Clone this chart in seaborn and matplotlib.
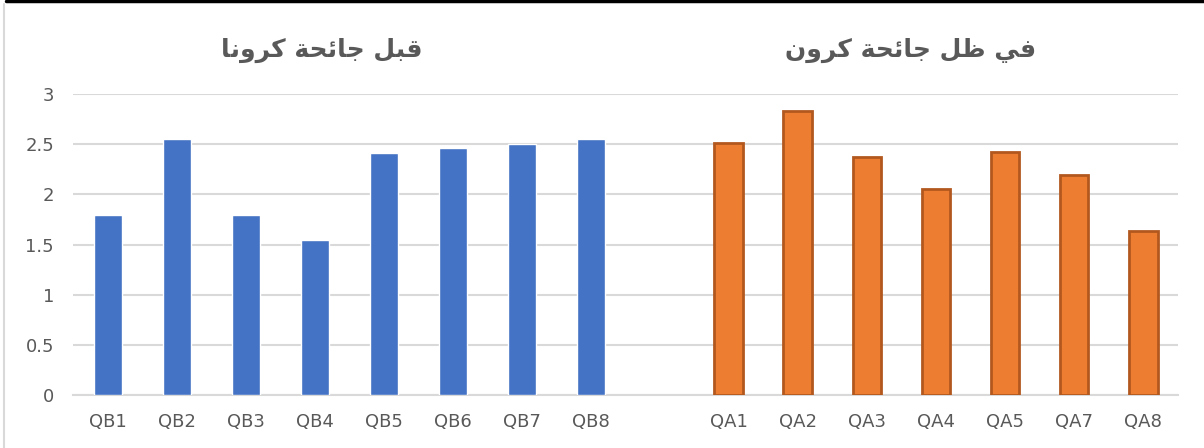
import pandas as pd
import matplotlib.pyplot as plt
import seaborn as sns

before_labels = ['QB1', 'QB2', 'QB3', 'QB4', 'QB5', 'QB6', 'QB7', 'QB8']
before_values = [1.80, 2.55, 1.80, 1.55, 2.41, 2.46, 2.50, 2.55]
after_labels = ['QA1', 'QA2', 'QA3', 'QA4', 'QA5', 'QA7', 'QA8']
after_values = [2.51, 2.83, 2.37, 2.05, 2.42, 2.19, 1.64]
before_title = 'قبل جائحة كرونا'
after_title = 'في ظل جائحة كرون'

# matplotlib has no arabic shaping, so pick the contextual forms by hand
FORMS = {
    'ا': ('\uFE8D', '\uFE8E', None, None),
    'ب': ('\uFE8F', '\uFE90', '\uFE91', '\uFE92'),
    'ة': ('\uFE93', '\uFE94', None, None),
    'ج': ('\uFE9D', '\uFE9E', '\uFE9F', '\uFEA0'),
    'ح': ('\uFEA1', '\uFEA2', '\uFEA3', '\uFEA4'),
    'ر': ('\uFEAD', '\uFEAE', None, None),
    'ظ': ('\uFEC5', '\uFEC6', '\uFEC7', '\uFEC8'),
    'ف': ('\uFED1', '\uFED2', '\uFED3', '\uFED4'),
    'ق': ('\uFED5', '\uFED6', '\uFED7', '\uFED8'),
    'ك': ('\uFED9', '\uFEDA', '\uFEDB', '\uFEDC'),
    'ل': ('\uFEDD', '\uFEDE', '\uFEDF', '\uFEE0'),
    'ن': ('\uFEE5', '\uFEE6', '\uFEE7', '\uFEE8'),
    'و': ('\uFEED', '\uFEEE', None, None),
    'ي': ('\uFEF1', '\uFEF2', '\uFEF3', '\uFEF4'),
    'ئ': ('\uFE89', '\uFE8A', '\uFE8B', '\uFE8C'),
}

def shape(text):
    out = []
    for i, ch in enumerate(text):
        if ch not in FORMS:
            out.append(ch)
            continue
        prev = text[i - 1] if i > 0 else ' '
        nxt = text[i + 1] if i < len(text) - 1 else ' '
        join_prev = prev in FORMS and FORMS[prev][2] is not None
        join_next = nxt in FORMS and FORMS[ch][2] is not None
        iso, fin, ini, med = FORMS[ch]
        if join_prev and join_next:
            out.append(med)
        elif join_prev:
            out.append(fin)
        elif join_next:
            out.append(ini)
        else:
            out.append(iso)
    return ''.join(out)[::-1]

order = before_labels + [' '] + after_labels
df_b = pd.DataFrame({'q': before_labels, 'v': before_values})
df_a = pd.DataFrame({'q': after_labels, 'v': after_values})

sns.set_style('white')
plt.rcParams['font.family'] = ['DejaVu Sans']
grey = '#595959'

fig = plt.figure(figsize=(12.04, 4.48), dpi=100)
ax = fig.add_axes([0.061, 0.118, 0.917, 0.672])

sns.barplot(data=df_b, x='q', y='v', order=order, color='#4472C4',
            width=0.4, saturation=1, ax=ax, zorder=3)
sns.barplot(data=df_a, x='q', y='v', order=order, color='#ED7D31',
            width=0.42, saturation=1, ax=ax, zorder=3,
            edgecolor='#B2581F', linewidth=2)

ax.set_ylim(0, 3)
ax.set_xlim(-0.5, len(order) - 0.5)
ax.set_yticks([0, 0.5, 1, 1.5, 2, 2.5, 3])
ax.set_yticklabels(['0', '0.5', '1', '1.5', '2', '2.5', '3'])
ax.yaxis.grid(True, color='#D9D9D9', linewidth=1.5, zorder=0)
ax.set_axisbelow(True)
ax.set_xlabel('')
ax.set_ylabel('')
ax.tick_params(axis='both', length=0, labelsize=13, labelcolor=grey)
ax.tick_params(axis='x', pad=13)
ax.tick_params(axis='y', pad=14)
for s in ['top', 'right', 'left']:
    ax.spines[s].set_visible(False)
ax.spines['bottom'].set_color('#D9D9D9')
ax.spines['bottom'].set_linewidth(1.5)

fig.text(0.267, 0.888, shape(before_title), ha='center', va='center',
         fontsize=18, fontweight='bold', color=grey)
fig.text(0.756, 0.888, shape(after_title), ha='center', va='center',
         fontsize=18, fontweight='bold', color=grey)

# frame edges from the screenshot
fig.add_artist(plt.Line2D([0.005, 1], [0.998, 0.998], color='black', linewidth=2.5))
fig.add_artist(plt.Line2D([0.0035, 0.0035], [0, 0.99], color='#D9D9D9', linewidth=1.5))

fig.savefig('out.png', dpi=100)
